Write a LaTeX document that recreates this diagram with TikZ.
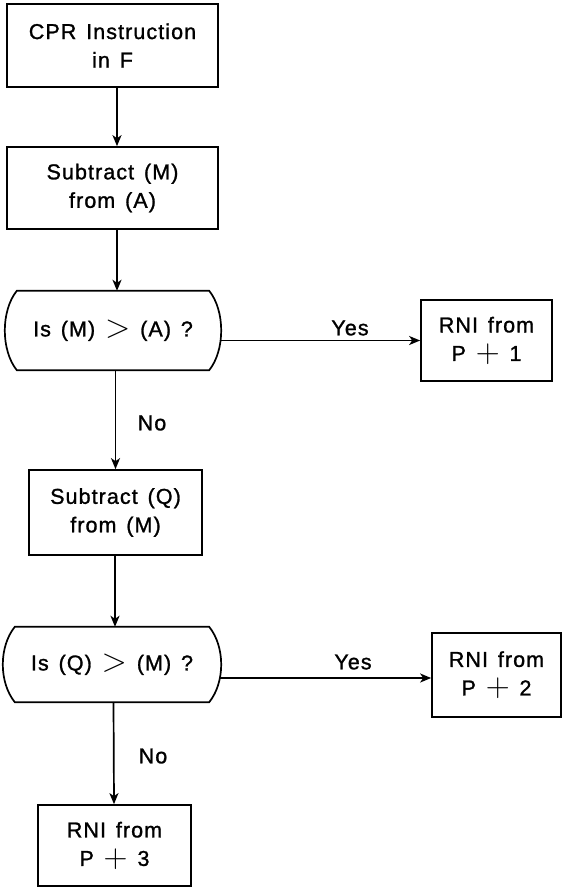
\documentclass[tikz,border=0pt]{standalone}
\usepackage[no-math]{fontspec}
\usepackage{graphicx}
\setmainfont{Liberation Sans}[LetterSpace=5,WordSpace=1.4,FakeBold=1.2]
\usetikzlibrary{arrows.meta}
\newcommand{\txtfont}{\fontsize{21.5}{28.5}\selectfont}
\newcommand{\bigop}[1]{\raisebox{-1.2pt}{\scalebox{1.6}{$#1$}}}
\tikzset{
  ln/.style={line width=1.7pt},
  box/.style={draw, ln, align=center, inner sep=0pt, font=\txtfont},
  dec/.style={align=center, inner sep=0pt, font=\txtfont},
  arr/.style={ln, -{Stealth[length=11pt,width=9pt,inset=3pt]}},
  lbl/.style={font=\txtfont, inner sep=0pt}
}
\begin{document}
\begin{tikzpicture}[x=1pt,y=-1pt]
\useasboundingbox (0,0) rectangle (562,888);
% boxes
\node[box, minimum width=211pt, minimum height=83pt] (b1) at (112.5,45.5) {CPR Instruction\\in F};
\node[box, minimum width=211pt, minimum height=82pt] (b2) at (112.5,188) {Subtract (M)\\from (A)};
\node[dec, minimum width=216pt, minimum height=79pt] (d1) at (113,330.5) {Is (M) \bigop{>} (A) ?};
\node[box, minimum width=131pt, minimum height=81pt] (r1) at (486.5,340.5) {RNI from\\P \bigop{+} 1};
\node[box, minimum width=173pt, minimum height=85pt] (bq) at (115.5,512.5) {Subtract (Q)\\from (M)};
\node[dec, minimum width=218pt, minimum height=75pt] (d2) at (112,664.5) {Is (Q) \bigop{>} (M) ?};
\node[box, minimum width=129pt, minimum height=84pt] (r2) at (496.5,675) {RNI from\\P \bigop{+} 2};
\node[box, minimum width=153pt, minimum height=81pt] (r3) at (114.5,845.5) {RNI from\\P \bigop{+} 3};
% decision outlines
\foreach \d in {d1,d2}{
  \draw[ln] ([xshift=12pt]\d.north west) -- ([xshift=-12pt]\d.north east)
    .. controls ([xshift=4pt,yshift=-20pt]\d.north east) and ([xshift=4pt,yshift=20pt]\d.south east) .. ([xshift=-12pt]\d.south east)
    -- ([xshift=12pt]\d.south west)
    .. controls ([xshift=-4pt,yshift=20pt]\d.south west) and ([xshift=-4pt,yshift=-20pt]\d.north west) .. ([xshift=12pt]\d.north west) -- cycle;
}
% connectors
\draw[arr] ([xshift=4.5pt]b1.south) -- ([xshift=4.5pt]b2.north);
\draw[arr] ([xshift=4.5pt]b2.south) -- ([xshift=4pt]d1.north);
\draw[arr] ([xshift=2.5pt]d1.south) -- (bq.north);
\draw[arr] ([xshift=-0.5pt]bq.south) -- ([xshift=3pt]d2.north);
\draw[arr] ([xshift=1.5pt]d2.south) -- ([xshift=-0.5pt]r3.north);
\draw[arr] ([xshift=-1pt]d1.east |- r1.west) -- (r1.west);
\draw[arr] ([xshift=-1pt,yshift=-3pt]d2.east |- r2.west) -- ([yshift=-3pt]r2.west);
% labels
\node[lbl] (y1) at (350,328) {Yes};
\node[lbl] (n1) at (152,423) {No};
\node[lbl] (y2) at (353,662) {Yes};
\node[lbl] (n2) at (153,756) {No};
\end{tikzpicture}
\end{document}
